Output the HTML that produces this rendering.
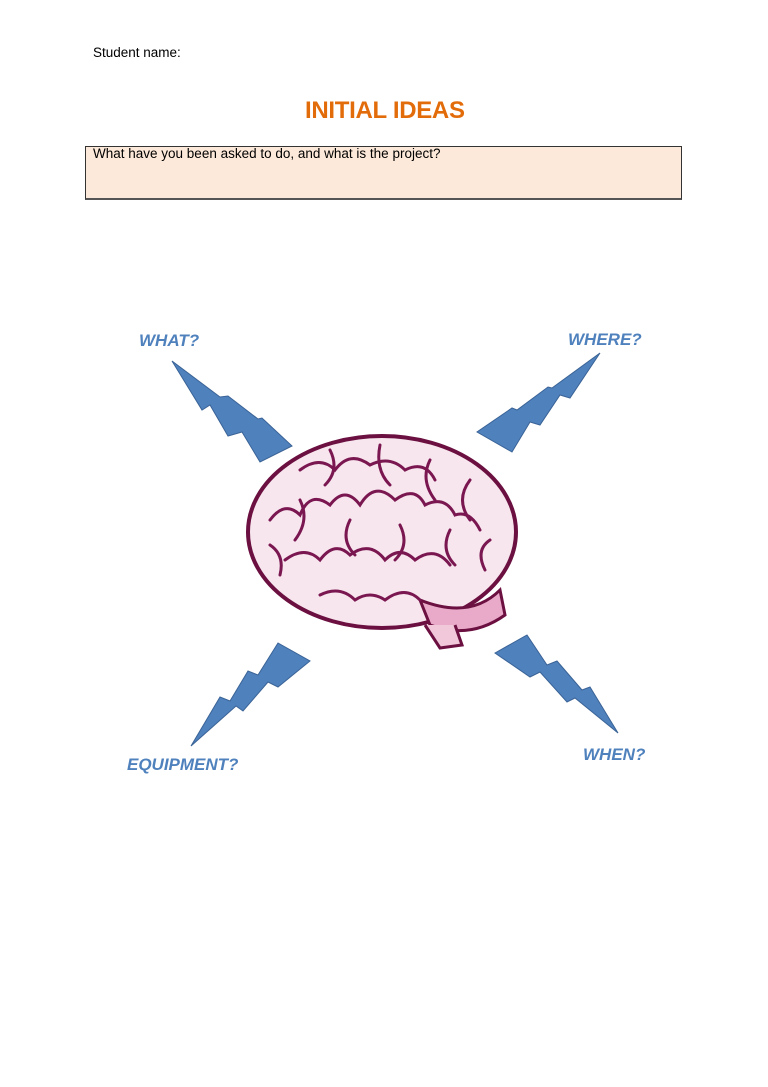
<!DOCTYPE html>
<html><head><meta charset="utf-8"><style>
body{margin:0;background:#fff;width:768px;height:1087px;position:relative;overflow:hidden;font-family:"Liberation Sans",sans-serif}
.a{position:absolute;white-space:nowrap}
</style></head><body>
<div class="a" style="left:93px;top:45px;font-size:13.5px;color:#000">Student name:</div>
<div class="a" style="left:305px;top:97px;font-size:24px;font-weight:bold;color:#e36c0a;letter-spacing:-0.3px">INITIAL IDEAS</div>
<div class="a" style="left:85px;top:146px;width:595px;height:51px;background:#fde9d9;border:1px solid #333;border-bottom:2px solid #555"></div>
<div class="a" style="left:93px;top:146px;font-size:13.5px;color:#000">What have you been asked to do, and what is the project?</div>
<div class="a" style="left:139px;top:331px;font-size:17px;font-weight:bold;font-style:italic;color:#4f81bd">WHAT?</div>
<div class="a" style="left:568px;top:330px;font-size:17px;font-weight:bold;font-style:italic;color:#4f81bd">WHERE?</div>
<div class="a" style="left:127px;top:755px;font-size:17px;font-weight:bold;font-style:italic;color:#4f81bd">EQUIPMENT?</div>
<div class="a" style="left:583px;top:745px;font-size:17px;font-weight:bold;font-style:italic;color:#4f81bd">WHEN?</div>
<svg class="a" style="left:0;top:0" width="768" height="1087">
<g fill="#4f81bd" stroke="#3a6396" stroke-width="1">
<polygon points="172,361 220,397 228,396 258,419 262,418 292,446 260,462 242,432 228,436 210,405 202,410"/>
<polygon points="600,353 552,388 548,387 517,410 512,408 477,432 512,452 530,422 540,425 560,395 570,398"/>
<polygon points="191,746 220,697 230,701 248,671 258,675 278,643 310,661 278,687 268,682 243,711 236,706"/>
<polygon points="495,653 527,635 547,665 557,661 582,690 590,687 618,733 575,698 567,702 540,672 530,677"/>
</g>
<g>
<ellipse cx="382" cy="532" rx="134" ry="96" fill="#f7e6ee" stroke="#6b1040" stroke-width="4"/>
<path d="M420,600 Q470,620 500,590 L505,615 Q470,640 430,625 Z" fill="#e9a9c8" stroke="#6b1040" stroke-width="3"/>
<path d="M425,625 L440,648 L462,645 L455,625" fill="#f1c7da" stroke="#6b1040" stroke-width="3"/>
<g fill="none" stroke="#7a1650" stroke-width="3" stroke-linecap="round">
<path d="M270,520 q15,-20 30,-5 q10,-25 30,-10 q15,-20 30,0 q15,-25 35,-5 q20,-15 30,5 q20,-10 30,10 q15,-5 25,15"/>
<path d="M285,560 q20,-15 35,0 q15,-20 30,-5 q20,-15 35,5 q15,-15 30,0 q20,-15 35,5"/>
<path d="M300,470 q20,-15 35,0 q15,-20 35,-5 q20,-10 35,5 q20,-10 30,10"/>
<path d="M320,595 q20,-10 35,5 q15,-10 30,0 q20,-15 35,0"/>
<path d="M330,450 q10,20 -5,35 M380,445 q-5,25 10,40 M430,460 q-10,20 5,40 M470,480 q-15,20 0,40 M350,520 q-10,20 5,35 M400,525 q10,20 -5,35 M450,530 q-10,20 5,35 M300,500 q10,20 -5,40"/>
<path d="M270,545 q15,10 10,30 M490,540 q-15,10 -5,30"/>
</g>
</g>
</svg>
</body></html>
